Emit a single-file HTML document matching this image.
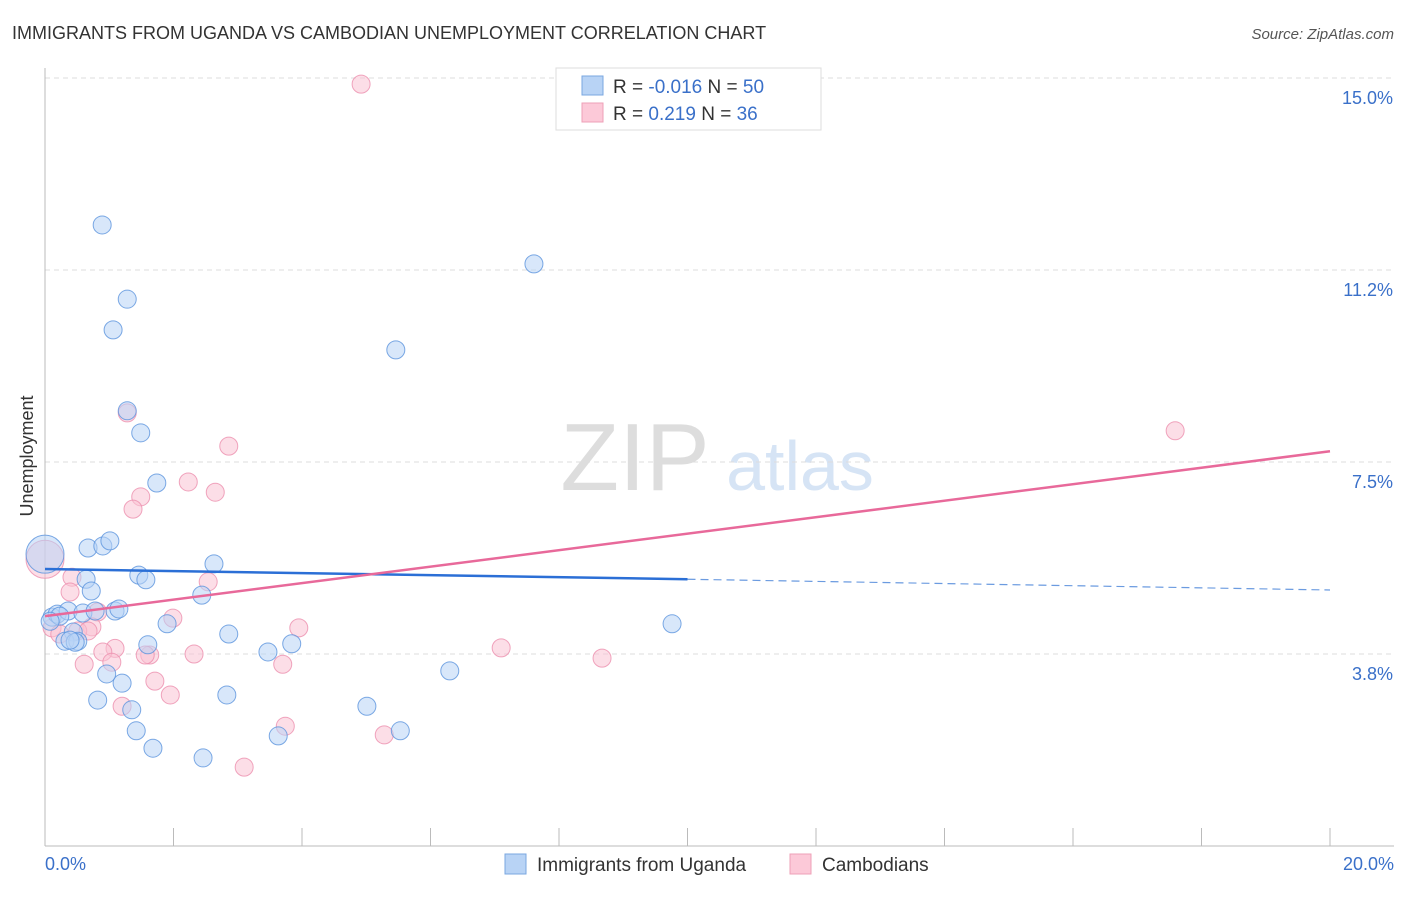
<!DOCTYPE html>
<html><head><meta charset="utf-8"><style>
body{margin:0;background:#fff;font-family:"Liberation Sans",sans-serif}
svg text{font-family:"Liberation Sans",sans-serif}
</style></head><body>
<svg id="c" width="1406" height="892">
<text x="12" y="39" font-size="18" fill="#333">IMMIGRANTS FROM UGANDA VS CAMBODIAN UNEMPLOYMENT CORRELATION CHART</text>
<text x="1394" y="39" font-size="15" fill="#555" font-style="italic" text-anchor="end">Source: ZipAtlas.com</text>
<text x="33" y="456" font-size="18" fill="#333" transform="rotate(-90 33 456)" text-anchor="middle">Unemployment</text>
<g><text x="635" y="490" font-size="96" fill="#ddd" font-family="Liberation Serif" text-anchor="middle">ZIP</text><text x="800" y="490" font-size="70" fill="#d6e4f5" text-anchor="middle">atlas</text></g>
<g id="grid"></g><g id="marks"></g>
<g>
<rect x="556" y="68" width="265" height="62" fill="#fff" stroke="#ddd"/>
<rect x="582" y="76" width="21" height="19" fill="#b8d3f5" stroke="#7aa7e0"/>
<rect x="582" y="103" width="21" height="19" fill="#fcc9d8" stroke="#eea0b7"/>
<text x="613" y="93" font-size="19" fill="#333">R = <tspan fill="#3a70c9">-0.016</tspan>   N = <tspan fill="#3a70c9">50</tspan></text>
<text x="613" y="120" font-size="19" fill="#333">R =   <tspan fill="#3a70c9">0.219</tspan>   N =  <tspan fill="#3a70c9">36</tspan></text>
</g>
<g>
<rect x="505" y="854" width="21" height="20" fill="#b8d3f5" stroke="#7aa7e0"/>
<text x="537" y="871" font-size="19" fill="#333">Immigrants from Uganda</text>
<rect x="790" y="854" width="21" height="20" fill="#fcc9d8" stroke="#eea0b7"/>
<text x="822" y="871" font-size="19" fill="#333">Cambodians</text>
</g>
</svg>
<script>
const yTicks=[15.0,11.25,7.5,3.75];
const yTickLabels=["15.0%","11.2%","7.5%","3.8%"];
const xTickLabels=["0.0%","20.0%"];
const blueX=[0.89,1.28,1.06,7.61,5.46,1.28,1.49,1.74,0.67,0.90,1.01,2.63,0.64,1.46,1.57,0.72,2.44,0.11,0.19,0.36,0.59,0.78,1.09,1.15,1.90,0.44,0.31,0.51,1.60,9.76,2.86,3.84,3.47,0.96,1.20,0.82,2.83,6.30,1.35,5.01,1.42,5.53,3.63,1.68,2.46,0.0,0.47,0.23,0.08,0.39];
const blueY=[12.13,10.68,10.08,11.37,9.69,8.50,8.07,7.09,5.82,5.86,5.96,5.51,5.21,5.29,5.20,4.98,4.90,4.47,4.53,4.59,4.55,4.59,4.59,4.63,4.34,4.18,4.00,4.00,3.93,4.34,4.14,3.95,3.79,3.36,3.18,2.85,2.95,3.42,2.66,2.73,2.25,2.25,2.15,1.91,1.72,5.7,3.98,4.49,4.39,4.02];
const blueR=[9,9,9,9,9,9,9,9,9,9,9,9,9,9,9,9,9,9,9,9,9,9,9,9,9,9,9,9,9,9,9,9,9,9,9,9,9,9,9,9,9,9,9,9,9,19,9,9,9,9];
const pinkX=[4.92,1.28,2.86,2.23,2.65,1.49,1.37,0.0,0.42,0.39,2.54,0.82,1.99,0.73,0.11,0.23,0.51,0.67,3.95,7.10,8.67,2.32,1.09,0.90,1.63,1.56,1.04,0.61,3.70,1.71,1.95,1.20,3.74,5.28,3.10,17.59];
const pinkY=[14.88,8.46,7.81,7.11,6.91,6.82,6.58,5.6,5.25,4.96,5.16,4.57,4.45,4.28,4.26,4.14,4.20,4.20,4.26,3.87,3.67,3.75,3.86,3.79,3.73,3.73,3.59,3.55,3.55,3.22,2.95,2.73,2.34,2.17,1.54,8.11];
const pinkR=[9,9,9,9,9,9,9,19,9,9,9,9,9,9,9,9,9,9,9,9,9,9,9,9,9,9,9,9,9,9,9,9,9,9,9,9];
const blueTrend=[[0,5.41],[10,5.21]];const blueDash=[[10,5.21],[20,5.0]];
const pinkTrend=[[0,4.49],[20,7.71]];
const NS='http://www.w3.org/2000/svg';
const X=v=>45+v/20*1285, Y=v=>846-v/3.75*192;
function el(t,a,p){const e=document.createElementNS(NS,t);for(const k in a)e.setAttribute(k,a[k]);p.appendChild(e);return e;}
const g=document.getElementById('grid'),m=document.getElementById('marks');
yTicks.forEach((t,i)=>{const l=el('line',{x1:45,x2:1394,y1:Y(t),y2:Y(t),stroke:'#ddd','stroke-dasharray':'5,4'},g);

const tx=el('text',{x:1393,y:Y(t)+26,'font-size':18,fill:'#3a70c9','text-anchor':'end'},g);tx.textContent=yTickLabels[i];
});
const ax=el('line',{x1:45,x2:45,y1:68,y2:846,stroke:'#bbb'},g);
const bx=el('line',{x1:45,x2:1394,y1:846,y2:846,stroke:'#bbb'},g);
for(let i=1;i<=10;i++){const t=el('line',{x1:X(i*2),x2:X(i*2),y1:828,y2:846,stroke:'#bbb'},g);}
[[0,'start',45],[20,'end',1394]].forEach((d,i)=>{const t=el('text',{x:d[2],y:870,'font-size':18,fill:'#3a70c9','text-anchor':d[1]},g);t.textContent=xTickLabels[i];});
function pts(xs,ys,rs,f,s,n){xs.forEach((x,i)=>{const c=el('circle',{cx:X(x),cy:Y(ys[i]),r:rs[i],fill:f,'fill-opacity':0.55,stroke:s,'stroke-opacity':0.8},m);});}
pts(pinkX,pinkY,pinkR,'#f9c2d3','#ec8fae','cambodians-point');
pts(blueX,blueY,blueR,'#b8d3f5','#5b93dd','uganda-point');
function ln(p,c,w,d,n){const l=el('line',{x1:X(p[0][0]),y1:Y(p[0][1]),x2:X(p[1][0]),y2:Y(p[1][1]),stroke:c,'stroke-width':w},m);if(d)l.setAttribute('stroke-dasharray',d);}
ln(blueTrend,'#2b6fd6',2.5,null,'uganda-trend-line');ln(blueDash,'#6b9be0',1.2,'8,5','uganda-trend-extension');
ln(pinkTrend,'#e8699a',2.5,null,'cambodians-trend-line');
</script>
</body></html>
